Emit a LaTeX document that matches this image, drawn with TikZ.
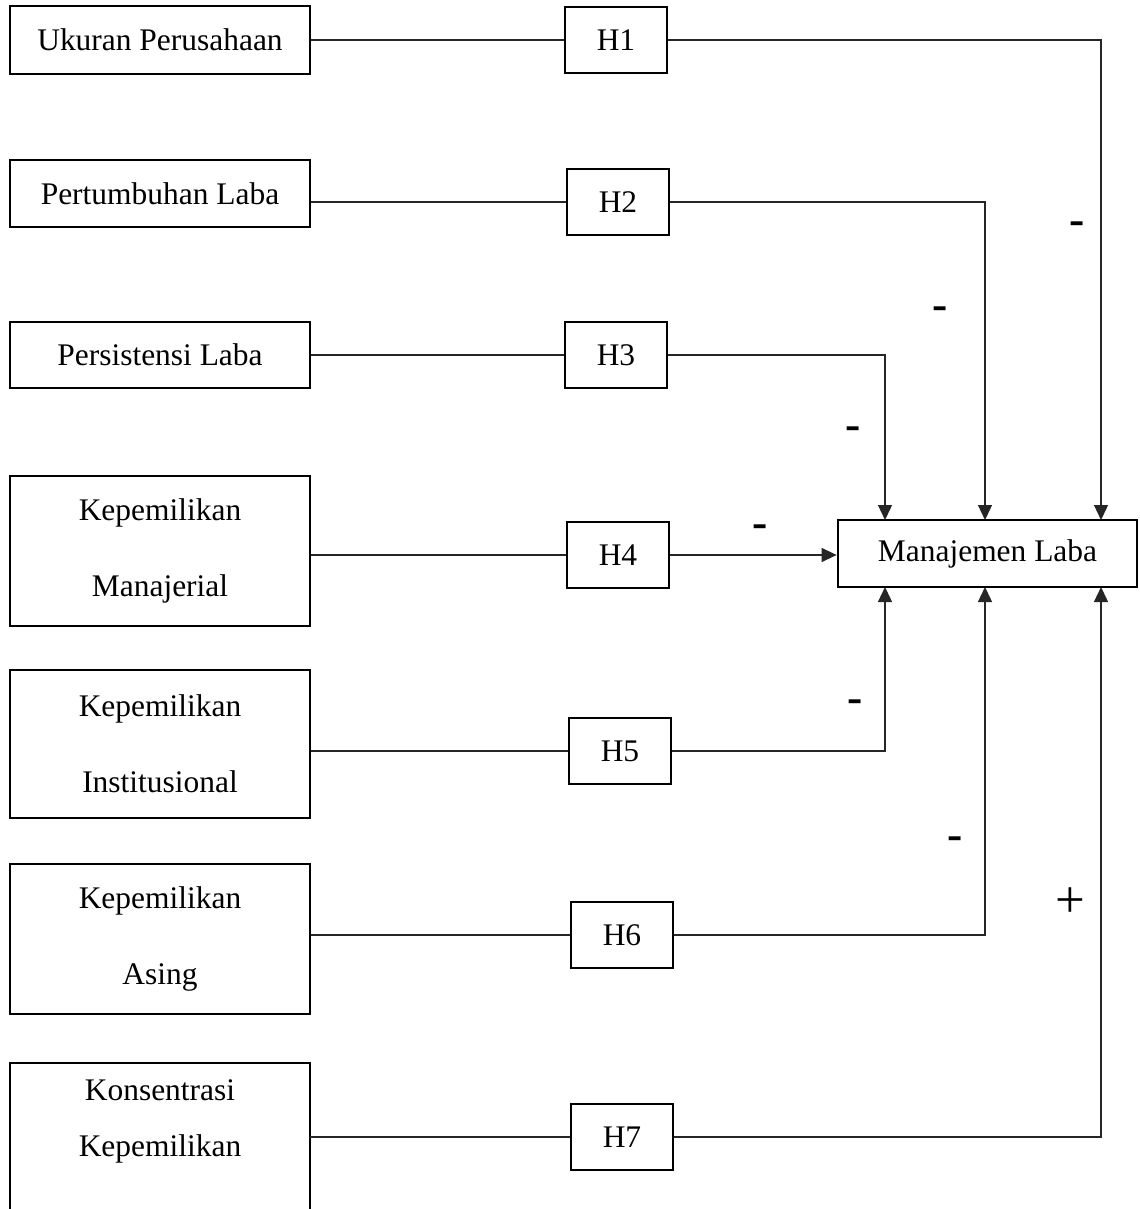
\documentclass[tikz,border=0pt]{standalone}
\usepackage{fontspec}
\setmainfont{Liberation Serif}
\usetikzlibrary{arrows.meta}

\begin{document}
\begin{tikzpicture}[
  x=0.02cm,
  y=-0.02cm,
  font=\fontsize{17.9}{43}\selectfont,
  varbox/.style={
    draw=black,
    line width=1.6pt,
    minimum width=6cm,
    inner sep=0pt,
    align=center
  },
  hyp/.style={draw=black, line width=1.6pt, minimum width=2.04cm, minimum height=1.32cm, inner sep=0pt},
  link/.style={draw=black!85, line width=0.75pt},
  arrow/.style={link, -{Triangle[length=3mm, width=2.8mm]}},
  sign/.style={font=\fontsize{26}{28}\selectfont\bfseries},
  plus/.style={font=\fontsize{30}{32}\selectfont}
]

\useasboundingbox (0,0) rectangle (1139,1209);

% Independent variables on the left.
\node[varbox, minimum height=1.36cm] (x1) at (160,40) {Ukuran Perusahaan};
\node[varbox, minimum height=1.34cm] (x2) at (160,193.5) {Pertumbuhan Laba};
\node[varbox, minimum height=1.32cm] (x3) at (160,355) {Persistensi Laba};
\node[varbox, minimum height=3cm] (x4) at (160,551) {Kepemilikan\\Manajerial};
\node[varbox, minimum height=2.96cm] (x5) at (160,744) {Kepemilikan\\Institusional};
\node[varbox, minimum height=3cm] (x6) at (160,939) {Kepemilikan\\Asing};
\node[varbox, draw=none, outer sep=0pt, minimum height=2.92cm] (x7) at (160,1136) {};
\node[align=center, font=\fontsize{17.9}{31.8}\selectfont] (x7txt) at (160,1121)
  {Konsentrasi\\Kepemilikan};
\draw[line width=1.6pt] (x7.south west) |- (x7.north east) -- (x7.south east);

% Hypotheses.
\node[hyp] (h1) at (616,40) {H1};
\node[hyp] (h2) at (618,202) {H2};
\node[hyp] (h3) at (616,355) {H3};
\node[hyp] (h4) at (618,555) {H4};
\node[hyp] (h5) at (620,751) {H5};
\node[hyp] (h6) at (622,935) {H6};
\node[hyp] (h7) at (622,1137) {H7};

% Dependent variable.
\node[hyp, minimum width=5.98cm, minimum height=1.34cm] (ml) at (987.5,553.5) {Manajemen Laba};

\coordinate (t1) at (1101,520);
\coordinate (t2) at (985,520);
\coordinate (t3) at (885,520);
\coordinate (b5) at (885,587);
\coordinate (b6) at (985,587);
\coordinate (b7) at (1101,587);

\draw[link] (x1.east |- h1) -- (h1.west);
\draw[link] (x2.east |- h2) -- (h2.west);
\draw[link] (x3.east |- h3) -- (h3.west);
\draw[link] (x4.east |- h4) -- (h4.west);
\draw[link] (x5.east |- h5) -- (h5.west);
\draw[link] (x6.east |- h6) -- (h6.west);
\draw[link] (x7.east |- h7) -- (h7.west);

\draw[arrow] (h1.east) -| (t1);
\draw[arrow] (h2.east) -| (t2);
\draw[arrow] (h3.east) -| (t3);
\draw[arrow] (h4.east) -- (ml.west |- h4);
\draw[arrow] (h5.east) -| (b5);
\draw[arrow] (h6.east) -| (b6);
\draw[arrow] (h7.east) -| (b7);

% Expected signs.
\node[sign] (s1) at (1077,228) {-};
\node[sign] (s2) at (940,313) {-};
\node[sign] (s3) at (853,433) {-};
\node[sign] (s4) at (760,531) {-};
\node[sign] (s5) at (855,706) {-};
\node[sign] (s6) at (955,843) {-};
\node[plus] (s7) at (1070,903) {+};

\end{tikzpicture}
\end{document}
